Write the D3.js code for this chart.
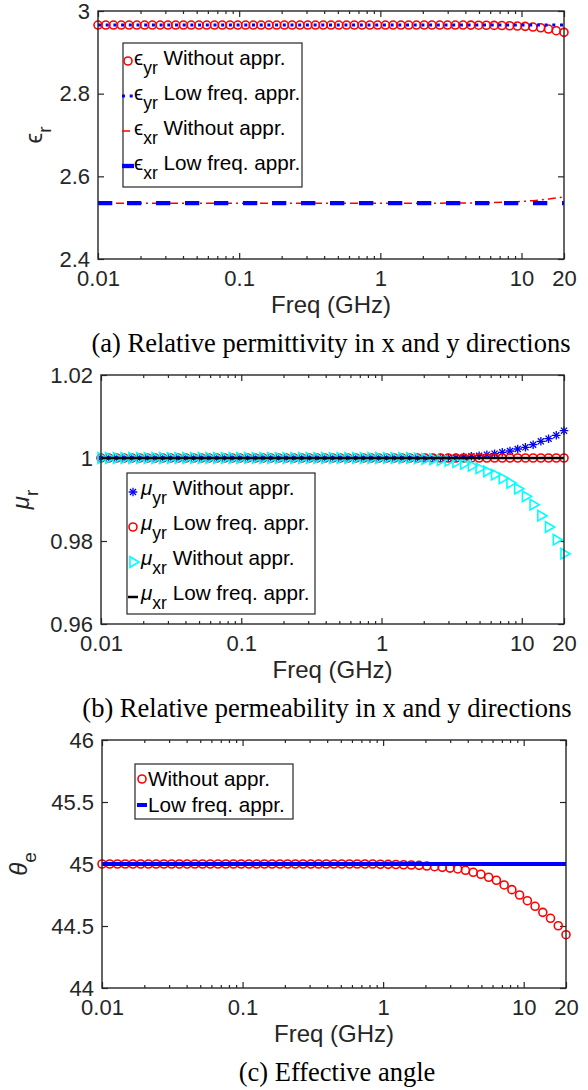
<!DOCTYPE html>
<html lang="en">
<head>
<meta charset="utf-8">
<title>Relative permittivity, permeability and effective angle</title>
<style>
body {
	margin: 0;
	background: #fff;
}
svg text {
	font-family: "Liberation Sans", Arial, sans-serif;
	fill: #262626;
}
.tick text {
	font-size: 22px;
}
.axis-label {
	font-size: 24px;
}
.legend-text {
	font-size: 20.7px;
	fill: #000;
}
.caption {
	font-family: "Liberation Serif", "Times New Roman", serif;
	font-size: 26.5px;
	fill: #000;
}
</style>
</head>
<body>
<div id="chart"></div>

<script src="https://d3js.org/d3.v7.min.js"></script>
<script>
// frequency points (GHz), evenly spaced on the log axis
var freq = [
	0.01, 0.01135, 0.01288, 0.01462, 0.0166, 0.01884, 0.02139, 0.02427, 0.02755, 0.03127,
	0.0355, 0.04029, 0.04573, 0.05191, 0.05892, 0.06687, 0.07591, 0.08616, 0.09779, 0.111,
	0.126, 0.143, 0.1623, 0.1843, 0.2091, 0.2374, 0.2694, 0.3058, 0.3471, 0.394,
	0.4472, 0.5076, 0.5762, 0.654, 0.7423, 0.8426, 0.9564, 1.086, 1.232, 1.399,
	1.587, 1.802, 2.045, 2.321, 2.635, 2.991, 3.395, 3.853, 4.374, 4.964,
	5.635, 6.396, 7.259, 8.24, 9.353, 10.62, 12.05, 13.68, 15.52, 17.62,
	20
];

// (a) permittivity
var epsYWithout = [
	2.966, 2.966, 2.966, 2.966, 2.966, 2.966, 2.966, 2.966, 2.966, 2.966,
	2.966, 2.966, 2.966, 2.966, 2.966, 2.966, 2.966, 2.966, 2.966, 2.966,
	2.966, 2.966, 2.966, 2.966, 2.966, 2.966, 2.966, 2.966, 2.966, 2.966,
	2.966, 2.966, 2.966, 2.966, 2.966, 2.966, 2.966, 2.966, 2.966, 2.966,
	2.966, 2.966, 2.966, 2.966, 2.966, 2.966, 2.966, 2.966, 2.9659, 2.9657,
	2.9655, 2.9652, 2.9648, 2.9643, 2.9636, 2.9629, 2.9612, 2.9595, 2.9564, 2.9523,
	2.9484
];
var epsYLow = [
	2.966, 2.966, 2.966, 2.966, 2.966, 2.966, 2.966, 2.966, 2.966, 2.966,
	2.966, 2.966, 2.966, 2.966, 2.966, 2.966, 2.966, 2.966, 2.966, 2.966,
	2.966, 2.966, 2.966, 2.966, 2.966, 2.966, 2.966, 2.966, 2.966, 2.966,
	2.966, 2.966, 2.966, 2.966, 2.966, 2.966, 2.966, 2.966, 2.966, 2.966,
	2.966, 2.966, 2.966, 2.966, 2.966, 2.966, 2.966, 2.966, 2.966, 2.966,
	2.966, 2.966, 2.966, 2.966, 2.966, 2.966, 2.966, 2.966, 2.966, 2.966,
	2.966
];
var epsXWithout = [
	2.535, 2.535, 2.535, 2.535, 2.535, 2.535, 2.535, 2.535, 2.535, 2.535,
	2.535, 2.535, 2.535, 2.535, 2.535, 2.535, 2.535, 2.535, 2.535, 2.535,
	2.535, 2.535, 2.535, 2.535, 2.535, 2.535, 2.535, 2.535, 2.535, 2.535,
	2.535, 2.535, 2.535, 2.535, 2.535, 2.535, 2.535, 2.535, 2.535, 2.535,
	2.535, 2.535, 2.535, 2.535, 2.5351, 2.5352, 2.5353, 2.5354, 2.5356, 2.5359,
	2.5362, 2.5366, 2.5371, 2.5378, 2.5387, 2.5398, 2.5412, 2.543, 2.545, 2.5475,
	2.5502
];
var epsXLow = [
	2.535, 2.535, 2.535, 2.535, 2.535, 2.535, 2.535, 2.535, 2.535, 2.535,
	2.535, 2.535, 2.535, 2.535, 2.535, 2.535, 2.535, 2.535, 2.535, 2.535,
	2.535, 2.535, 2.535, 2.535, 2.535, 2.535, 2.535, 2.535, 2.535, 2.535,
	2.535, 2.535, 2.535, 2.535, 2.535, 2.535, 2.535, 2.535, 2.535, 2.535,
	2.535, 2.535, 2.535, 2.535, 2.535, 2.535, 2.535, 2.535, 2.535, 2.535,
	2.535, 2.535, 2.535, 2.535, 2.535, 2.535, 2.535, 2.535, 2.535, 2.535,
	2.535
];

// (b) permeability
var muYWithout = [
	1, 1, 1, 1, 1, 1, 1, 1, 1, 1,
	1, 1, 1, 1, 1, 1, 1, 1, 1, 1,
	1, 1, 1, 1, 1, 1, 1, 1, 1, 1,
	1, 1, 1, 1, 1, 1, 1, 1, 1, 1,
	1, 1, 1, 1.00002, 1.00004, 1.00007, 1.00012, 1.00024, 1.00041, 1.00055,
	1.0008, 1.00104, 1.00137, 1.00169, 1.00217, 1.00258, 1.0032, 1.00402, 1.00465, 1.00547,
	1.00658
];
var muYLow = [
	1, 1, 1, 1, 1, 1, 1, 1, 1, 1,
	1, 1, 1, 1, 1, 1, 1, 1, 1, 1,
	1, 1, 1, 1, 1, 1, 1, 1, 1, 1,
	1, 1, 1, 1, 1, 1, 1, 1, 1, 1,
	1, 1, 1, 1, 1, 1, 1, 1, 1, 1,
	1, 1, 1, 1, 1, 1, 1, 1, 1, 1,
	1
];
var muXWithout = [
	1, 1, 1, 1, 1, 1, 1, 1, 1, 1,
	1, 1, 1, 1, 1, 1, 1, 1, 1, 1,
	1, 1, 1, 1, 1, 1, 1, 1, 1, 1,
	1, 1, 1, 1, 1, 1, 1, 1, 1, 1,
	1, 0.9999, 0.9998, 0.9997, 0.9995, 0.9993, 0.999, 0.9986, 0.9981, 0.9975,
	0.9968, 0.996, 0.9951, 0.994, 0.9926, 0.99077, 0.98875, 0.9861, 0.98337, 0.98031,
	0.97694
];
var muXLow = [
	1, 1, 1, 1, 1, 1, 1, 1, 1, 1,
	1, 1, 1, 1, 1, 1, 1, 1, 1, 1,
	1, 1, 1, 1, 1, 1, 1, 1, 1, 1,
	1, 1, 1, 1, 1, 1, 1, 1, 1, 1,
	1, 1, 1, 1, 1, 1, 1, 1, 1, 1,
	1, 1, 1, 1, 1, 1, 1, 1, 1, 1,
	1
];

// (c) effective angle
var thetaWithout = [
	45, 45, 45, 45, 45, 45, 45, 45, 45, 45,
	45, 45, 45, 45, 45, 45, 45, 45, 45, 45,
	45, 45, 45, 45, 45, 45, 45, 45, 45, 45,
	45, 45, 45, 45, 45, 45, 44.998, 44.997, 44.996, 44.994,
	44.992, 44.989, 44.984, 44.978, 44.973, 44.967, 44.96, 44.949, 44.933, 44.917,
	44.893, 44.869, 44.831, 44.793, 44.75, 44.704, 44.659, 44.61, 44.562, 44.502,
	44.43
];
var thetaLow = [
	45, 45, 45, 45, 45, 45, 45, 45, 45, 45,
	45, 45, 45, 45, 45, 45, 45, 45, 45, 45,
	45, 45, 45, 45, 45, 45, 45, 45, 45, 45,
	45, 45, 45, 45, 45, 45, 45, 45, 45, 45,
	45, 45, 45, 45, 45, 45, 45, 45, 45, 45,
	45, 45, 45, 45, 45, 45, 45, 45, 45, 45,
	45
];

// ticks
var xTicks = [0.01, 0.1, 1, 10, 20];
var xMinorTicks = [0.02, 0.03, 0.04, 0.05, 0.06, 0.07, 0.08, 0.09,
	0.2, 0.3, 0.4, 0.5, 0.6, 0.7, 0.8, 0.9,
	2, 3, 4, 5, 6, 7, 8, 9];
var yTicksA = [2.4, 2.6, 2.8, 3];
var yTicksB = [0.96, 0.98, 1, 1.02];
var yTicksC = [44, 44.5, 45, 45.5, 46];

var W = 588, H = 1090;
var axisColor = "#262626";

var svg = d3.select("#chart").append("svg")
	.attr("width", W)
	.attr("height", H)
	.attr("viewBox", "0 0 " + W + " " + H);

svg.append("rect").attr("width", W).attr("height", H).attr("fill", "#fff");

var styles = {
	redCircle: {marker: "circle", color: "#ff0000"},
	blueDot: {color: "#0000ff", width: 3, dash: "3,4.7"},
	redDashDot: {color: "#ff0000", width: 1.5, dash: "8,4,2,4"},
	blueDash: {color: "#0000ff", width: 4.3, dash: "14.3,14.7"},
	blueStar: {marker: "asterisk", color: "#0000ff"},
	cyanTri: {marker: "triangle", color: "#00ffff"},
	blackLine: {color: "#000000", width: 2.5},
	blueSolid: {color: "#0000ff", width: 4}
};

function drawMarker(sel, kind, color) {
	if (kind === "circle") {
		sel.append("circle").attr("r", 4)
			.attr("fill", "none").attr("stroke", color).attr("stroke-width", 1.6);
	} else if (kind === "asterisk") {
		// plus + times = 8-armed star like the plotted '*'
		sel.append("path").attr("d", d3.symbol(d3.symbolPlus, 26)())
			.attr("fill", "none").attr("stroke", color).attr("stroke-width", 1.3);
		sel.append("path").attr("d", d3.symbol(d3.symbolTimes, 26)())
			.attr("fill", "none").attr("stroke", color).attr("stroke-width", 1.3);
	} else if (kind === "triangle") {
		sel.append("path").attr("d", d3.symbol(d3.symbolTriangle, 48)())
			.attr("transform", "rotate(90)")
			.attr("fill", "none").attr("stroke", color).attr("stroke-width", 1.6);
	}
}

function drawPanel(p) {
	var x = d3.scaleLog().domain([0.01, 20]).range([p.left, p.right]);
	var y = d3.scaleLinear().domain(p.yDomain).range([p.bottom, p.top]);
	var g = svg.append("g");

	function clean(sel) {
		sel.select(".domain").remove();
		sel.selectAll(".tick line").attr("stroke", axisColor).attr("stroke-width", 1.2);
	}

	// minor ticks top and bottom
	g.append("g").attr("transform", "translate(0," + p.bottom + ")")
		.call(d3.axisBottom(x).tickValues(xMinorTicks).tickSize(-3).tickFormat(""))
		.call(clean);
	g.append("g").attr("transform", "translate(0," + p.top + ")")
		.call(d3.axisTop(x).tickValues(xMinorTicks).tickSize(-3).tickFormat(""))
		.call(clean);

	// major ticks
	g.append("g").attr("transform", "translate(0," + p.bottom + ")")
		.call(d3.axisBottom(x).tickValues(xTicks).tickSize(-6).tickPadding(11).tickFormat(d3.format("~g")))
		.call(clean);
	g.append("g").attr("transform", "translate(0," + p.top + ")")
		.call(d3.axisTop(x).tickValues(xTicks).tickSize(-6).tickFormat(""))
		.call(clean);
	g.append("g").attr("transform", "translate(" + p.left + ",0)")
		.call(d3.axisLeft(y).tickValues(p.yTicks).tickSize(-6).tickPadding(8).tickFormat(d3.format("~g")))
		.call(clean);
	g.append("g").attr("transform", "translate(" + p.right + ",0)")
		.call(d3.axisRight(y).tickValues(p.yTicks).tickSize(-6).tickFormat(""))
		.call(clean);

	g.selectAll(".tick text").attr("fill", axisColor).style("font-family", "'Liberation Sans', Arial, sans-serif");

	// series
	p.series.forEach(function(s) {
		var st = styles[s.style];
		var pts = freq.map(function(f, i) { return {f: f, v: s.values[i]}; });
		if (st.marker) {
			g.append("g").selectAll("g").data(pts).enter().append("g")
				.attr("transform", function(d) { return "translate(" + x(d.f) + "," + y(d.v) + ")"; })
				.each(function() { drawMarker(d3.select(this), st.marker, st.color); });
		} else {
			var line = d3.line().x(function(d) { return x(d.f); }).y(function(d) { return y(d.v); });
			g.append("path").datum(pts)
				.attr("d", line)
				.attr("fill", "none")
				.attr("stroke", st.color)
				.attr("stroke-width", st.width)
				.attr("stroke-dasharray", st.dash || null);
		}
	});

	// frame
	g.append("rect")
		.attr("x", p.left).attr("y", p.top)
		.attr("width", p.right - p.left).attr("height", p.bottom - p.top)
		.attr("fill", "none").attr("stroke", axisColor).attr("stroke-width", 1.4);

	// y label
	var yl = g.append("text").attr("class", "axis-label")
		.attr("transform", "translate(" + p.yLabelX + "," + ((p.top + p.bottom) / 2) + ") rotate(-90)")
		.attr("text-anchor", "middle");
	yl.append("tspan").text(p.yLabel).style("font-style", p.italicSym ? "italic" : null);
	yl.append("tspan").text(p.yLabelSub).attr("dy", 9).style("font-size", "19px");

	// x label
	g.append("text").attr("class", "axis-label")
		.attr("x", (p.left + p.right) / 2).attr("y", p.bottom + 54)
		.attr("text-anchor", "middle")
		.text("Freq (GHz)");

	// caption
	g.append("text").attr("class", "caption")
		.attr("x", p.captionX).attr("y", p.bottom + 93)
		.attr("text-anchor", "middle")
		.text(p.caption);

	// legend
	var lg = p.legend;
	var leg = g.append("g");
	leg.append("rect")
		.attr("x", lg.x).attr("y", lg.y).attr("width", lg.w).attr("height", lg.h)
		.attr("fill", "#fff").attr("stroke", axisColor).attr("stroke-width", 1.2);
	p.series.forEach(function(s, i) {
		var st = styles[s.style];
		var by = lg.firstBaseline + i * lg.step;
		var cy = by - lg.markerOffset;
		if (st.marker) {
			var mg = leg.append("g").attr("transform", "translate(" + lg.sampleX + "," + cy + ")");
			drawMarker(mg, st.marker, st.color);
		} else {
			leg.append("line")
				.attr("x1", lg.sampleX - lg.sampleHalf).attr("x2", lg.sampleX + lg.sampleHalf)
				.attr("y1", cy).attr("y2", cy)
				.attr("stroke", st.color).attr("stroke-width", st.width)
				.attr("stroke-dasharray", st.dash ? (s.style === "blueDash" ? null : st.dash) : null);
		}
		var t = leg.append("text").attr("class", "legend-text")
			.attr("x", lg.textX).attr("y", by);
		if (s.sym) {
			t.append("tspan").text(s.sym).style("font-style", p.italicSym ? "italic" : null);
			t.append("tspan").text(s.sub).attr("dy", 9).style("font-size", "17.5px");
			t.append("tspan").text(" " + s.label).attr("dy", -9);
		} else {
			t.text(s.label);
		}
	});
}

drawPanel({
	left: 98, right: 564, top: 11, bottom: 259,
	yDomain: [2.4, 3], yTicks: yTicksA,
	yLabel: "\u03f5", yLabelSub: "r", yLabelX: 42,
	caption: "(a) Relative permittivity in x and y directions", captionX: 331,
	series: [
		{values: epsYWithout, style: "redCircle", sym: "\u03f5", sub: "yr", label: "Without appr."},
		{values: epsYLow, style: "blueDot", sym: "\u03f5", sub: "yr", label: "Low freq. appr."},
		{values: epsXWithout, style: "redDashDot", sym: "\u03f5", sub: "xr", label: "Without appr."},
		{values: epsXLow, style: "blueDash", sym: "\u03f5", sub: "xr", label: "Low freq. appr."}
	],
	legend: {x: 123, y: 43, w: 179, h: 144, firstBaseline: 65, step: 35, markerOffset: 4,
		sampleX: 128, sampleHalf: 6, textX: 134}
});

drawPanel({
	left: 101, right: 564, top: 375, bottom: 624,
	yDomain: [0.96, 1.02], yTicks: yTicksB,
	yLabel: "\u03bc", yLabelSub: "r", yLabelX: 29, italicSym: true,
	caption: "(b) Relative permeability in x and y directions", captionX: 327,
	series: [
		{values: muYWithout, style: "blueStar", sym: "\u03bc", sub: "yr", label: "Without appr."},
		{values: muYLow, style: "redCircle", sym: "\u03bc", sub: "yr", label: "Low freq. appr."},
		{values: muXWithout, style: "cyanTri", sym: "\u03bc", sub: "xr", label: "Without appr."},
		{values: muXLow, style: "blackLine", sym: "\u03bc", sub: "xr", label: "Low freq. appr."}
	],
	legend: {x: 127, y: 473, w: 188, h: 141, firstBaseline: 495, step: 35, markerOffset: 3,
		sampleX: 133, sampleHalf: 5, textX: 141}
});

drawPanel({
	left: 102, right: 566, top: 740, bottom: 988,
	yDomain: [44, 46], yTicks: yTicksC,
	yLabel: "\u03b8", yLabelSub: "e", yLabelX: 27, italicSym: true,
	caption: "(c) Effective angle", captionX: 337,
	series: [
		{values: thetaWithout, style: "redCircle", label: "Without appr."},
		{values: thetaLow, style: "blueSolid", label: "Low freq. appr."}
	],
	legend: {x: 135, y: 764, w: 158, h: 55, firstBaseline: 786, step: 26, markerOffset: 7,
		sampleX: 142, sampleHalf: 5, textX: 148}
});
</script>
</body>
</html>
